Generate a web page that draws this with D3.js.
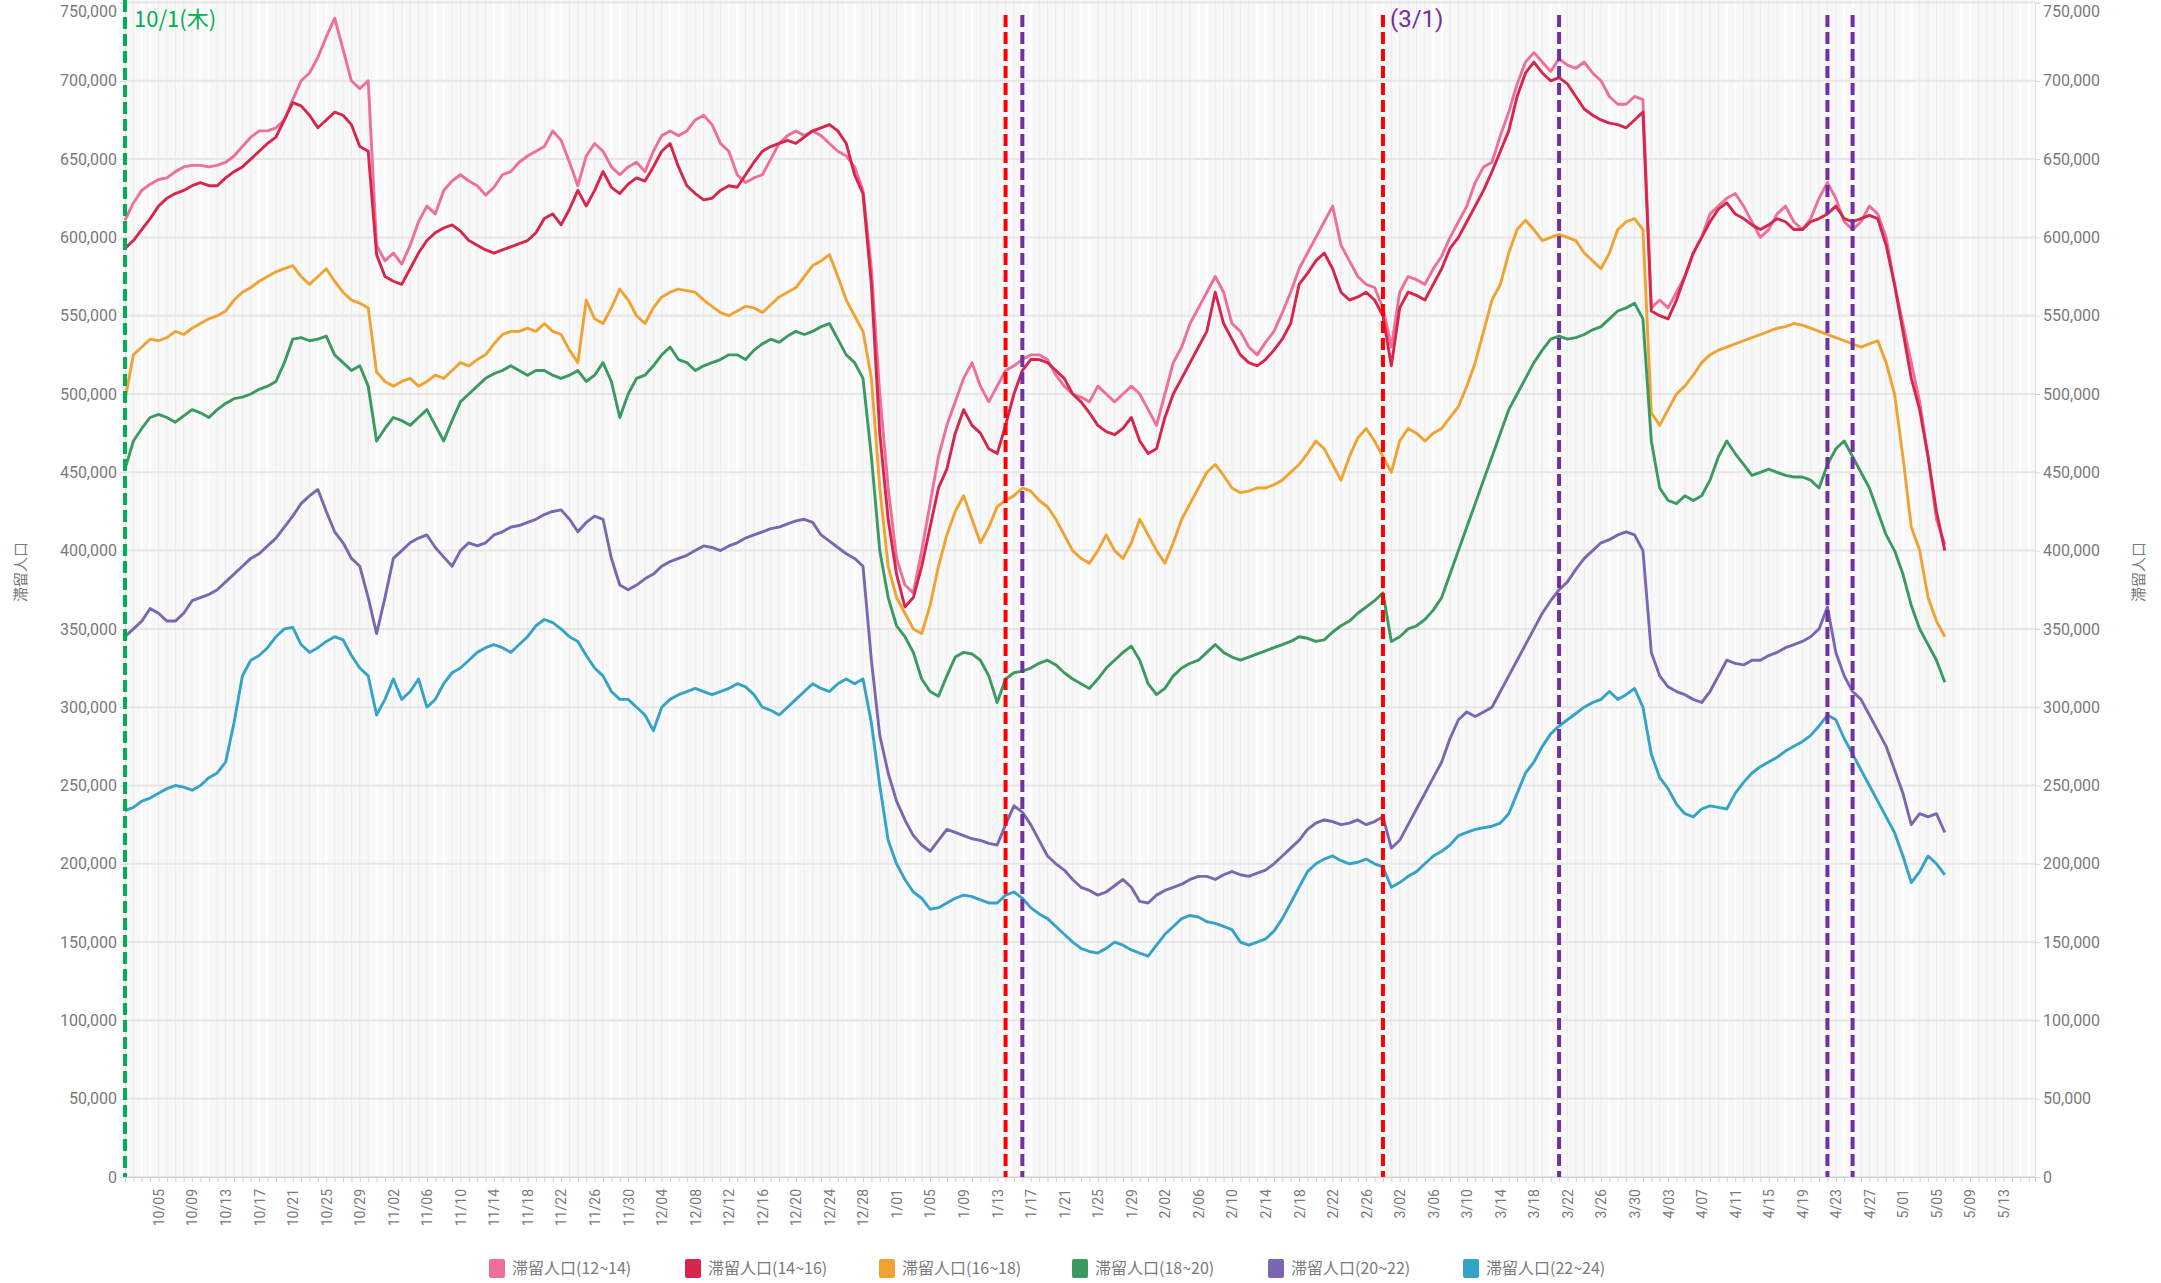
<!DOCTYPE html>
<html><head><meta charset="utf-8">
<script src="https://cdn.jsdelivr.net/npm/d3@7"></script>
<style>body{margin:0;background:#fff;} svg text{font-family:"Noto Sans CJK JP","Noto Sans",sans-serif;}</style>
</head><body><svg id="c" width="2161" height="1283"></svg>
<script>
// ---- data (thousands of people), daily from 2020-10-01 ----
const startDay = "2020-10-01";
const axisEndDay = "2021-05-16T18:00:00Z";
const seriesNames = ["滞留人口(12~14)","滞留人口(14~16)","滞留人口(16~18)","滞留人口(18~20)","滞留人口(20~22)","滞留人口(22~24)"];
const seriesColors = ["#ee6f99","#d7264c","#f0a232","#3a9a5f","#7b67b0","#35a3c8"];
const s12_14 = [611,622,630,634,637,638,642,645,646,646,645,646,648,652,658,664,668,668,670,675,688,700,705,715,728,740,720,700,695,700,595,585,590,583,595,610,620,615,630,636,640,636,633,627,632,640,642,648,652,655,658,668,662,648,633,652,660,655,645,640,645,648,642,655,665,668,665,668,675,678,672,660,655,640,635,638,640,650,660,665,668,665,668,665,660,655,652,645,630,580,500,440,395,378,373,400,430,460,480,495,510,520,505,495,505,515,518,522,525,525,522,512,505,500,498,495,505,500,495,500,505,500,490,480,500,520,530,545,555,565,575,565,545,540,530,525,533,540,552,565,580,590,600,610,620,595,585,575,570,568,555,530,565,575,573,570,580,588,600,610,620,635,645,648,665,680,698,712,718,712,706,714,710,708,712,705,700,690,685,685,690,688,555,560,555,565,575,590,600,615,620,625,628,620,610,600,605,615,620,610,605,612,625,635,625,610,605,610,620,615,600,570,545,520,495,460,420,404];
const s14_16 = [593,598,605,612,620,625,628,630,633,635,633,633,638,642,645,650,655,660,664,675,686,684,678,670,675,680,678,672,658,655,589,575,572,570,580,590,598,603,606,608,604,598,595,592,590,592,594,596,598,603,612,615,608,618,630,620,630,642,632,628,634,638,636,645,655,660,645,633,628,624,625,630,633,632,640,648,655,658,660,662,660,664,668,670,672,668,660,640,628,570,475,420,385,364,370,390,415,440,452,475,490,480,475,465,462,480,500,515,522,522,520,515,510,500,495,488,480,476,474,478,485,470,462,465,485,500,510,520,530,540,565,545,535,525,520,518,522,528,535,545,570,577,585,590,580,565,560,562,565,560,550,518,555,565,563,560,570,580,593,600,610,620,630,642,655,668,690,705,712,705,700,702,698,690,682,678,675,673,672,670,675,680,553,550,548,560,575,590,600,610,618,622,615,612,608,605,608,612,610,605,605,610,612,615,620,612,610,612,614,612,595,570,540,510,490,460,425,400];
const s16_18 = [496,525,530,535,534,536,540,538,542,545,548,550,553,560,565,568,572,575,578,580,582,575,570,575,580,572,565,560,558,555,514,508,505,508,510,505,508,512,510,515,520,518,522,525,532,538,540,540,542,540,545,540,538,528,520,560,548,545,555,567,560,550,545,555,562,565,567,566,565,560,556,552,550,553,556,555,552,557,562,565,568,575,582,585,589,575,560,550,540,510,440,390,370,360,350,347,365,390,410,425,435,420,405,415,428,432,435,440,438,432,428,420,410,400,395,392,400,410,400,395,405,420,410,400,392,405,420,430,440,450,455,448,440,437,438,440,440,442,445,450,455,462,470,465,455,445,460,472,478,470,460,450,470,478,475,470,475,478,485,492,505,520,540,560,570,590,605,611,605,598,600,602,600,598,590,585,580,590,605,610,612,605,488,480,490,500,505,512,520,525,528,530,532,534,536,538,540,542,543,545,544,542,540,538,536,534,532,530,532,534,520,500,460,415,400,370,355,345];
const s18_20 = [452,470,478,485,487,485,482,486,490,488,485,490,494,497,498,500,503,505,508,520,535,536,534,535,537,525,520,515,518,505,470,478,485,483,480,485,490,480,470,483,495,500,505,510,513,515,518,515,512,515,515,512,510,512,515,508,512,520,508,485,500,510,512,518,525,530,522,520,515,518,520,522,525,525,522,528,532,535,533,537,540,538,540,543,545,535,525,520,510,460,400,370,352,345,335,318,310,307,320,332,335,334,330,320,303,318,322,323,325,328,330,327,322,318,315,312,318,325,330,335,339,330,315,308,312,320,325,328,330,335,340,335,332,330,332,334,336,338,340,342,345,344,342,343,348,352,355,360,364,368,373,342,345,350,352,356,362,370,385,400,415,430,445,460,475,490,500,510,520,528,535,537,535,536,538,541,543,548,553,555,558,548,470,440,432,430,435,432,435,445,460,470,462,455,448,450,452,450,448,447,447,445,440,455,465,470,460,450,440,425,410,400,385,365,350,340,330,316];
const s20_22 = [345,350,355,363,360,355,355,360,368,370,372,375,380,385,390,395,398,403,408,415,422,430,435,439,425,412,405,395,390,370,347,370,395,400,405,408,410,402,396,390,400,405,403,405,410,412,415,416,418,420,423,425,426,420,412,418,422,420,395,378,375,378,382,385,390,393,395,397,400,403,402,400,403,405,408,410,412,414,415,417,419,420,418,410,406,402,398,395,390,330,282,258,240,228,218,212,208,215,222,220,218,216,215,213,212,225,237,233,225,215,205,200,196,190,185,183,180,182,186,190,185,176,175,180,183,185,187,190,192,192,190,193,195,193,192,194,196,200,205,210,215,222,226,228,227,225,226,228,225,227,230,210,215,225,235,245,255,265,280,292,297,294,297,300,310,320,330,340,350,360,368,375,380,388,395,400,405,407,410,412,410,400,335,320,313,310,308,305,303,310,320,330,328,327,330,330,333,335,338,340,342,345,350,364,335,320,310,305,295,285,275,260,245,225,232,230,232,220];
const s22_24 = [234,236,240,242,245,248,250,249,247,250,255,258,265,290,320,330,333,338,345,350,351,340,335,338,342,345,343,333,325,320,295,305,318,305,310,318,300,305,315,322,325,330,335,338,340,338,335,340,345,352,356,354,350,345,342,333,325,320,310,305,305,300,295,285,300,305,308,310,312,310,308,310,312,315,313,308,300,298,295,300,305,310,315,312,310,315,318,315,318,290,250,215,200,190,182,178,171,172,175,178,180,179,177,175,175,180,182,178,172,168,165,160,155,150,146,144,143,146,150,148,145,143,141,148,155,160,165,167,166,163,162,160,158,150,148,150,152,157,165,175,185,195,200,203,205,202,200,201,203,200,198,185,188,192,195,200,205,208,212,218,220,222,223,224,226,232,245,258,265,275,283,288,292,296,300,303,305,310,305,308,312,300,270,255,248,238,232,230,235,237,236,235,245,252,258,262,265,268,272,275,278,282,288,295,292,280,270,260,250,240,230,220,205,188,195,205,200,193];
const seriesValues = [s12_14,s14_16,s16_18,s18_20,s20_22,s22_24];
const yTickValues = [0,50000,100000,150000,200000,250000,300000,350000,400000,450000,500000,550000,600000,650000,700000,750000];
const greenLines = ["2020-10-01"];
const redLines = ["2021-01-14","2021-02-28"];
const purpleLines = ["2021-01-16","2021-03-21","2021-04-22","2021-04-25"];
const greenNote = "10/1(木)";
const redNote = "(3/1)";

// ---- drawing ----
const P = d3.utcParse("%Y-%m-%d");
const t0 = P(startDay), t1 = new Date(axisEndDay);
const L = 125, R = 2035, T = 2.5, B = 1177;
const svg = d3.select("#c");
const x = d3.scaleUtc().domain([t0, t1]).range([L, R]);
const y = d3.scaleLinear().domain([0, 750000]).range([B, T]);
const allDays = d3.utcDay.range(t0, t1);

svg.append("rect").attr("x",0).attr("y",0).attr("width",2161).attr("height",1283).attr("fill","#fff");
svg.append("rect").attr("x",L).attr("y",0).attr("width",R-L).attr("height",B).attr("fill","#f8f8f8");

// vertical day gridlines
svg.append("g").selectAll("line").data(allDays).join("line")
  .attr("x1",d=>x(d)).attr("x2",d=>x(d)).attr("y1",0).attr("y2",B)
  .attr("stroke",d=>(d.getUTCDay()===0||d.getUTCDay()===6)?"#ffffff":"#ebebeb")
  .attr("stroke-width",d=>(d.getUTCDay()===0||d.getUTCDay()===6)?2.5:1);

// horizontal gridlines
svg.append("g").selectAll("line").data(yTickValues).join("line")
  .attr("x1",L).attr("x2",R).attr("y1",d=>y(d)).attr("y2",d=>y(d))
  .attr("stroke","#e6e6e6").attr("stroke-width",2);

// y axes
const fmt = d3.format(",");
const yl = svg.append("g").attr("transform",`translate(${L},0)`).call(d3.axisLeft(y).tickValues(yTickValues).tickFormat(fmt).tickSize(5).tickPadding(3));
const yr = svg.append("g").attr("transform",`translate(${R},0)`).call(d3.axisRight(y).tickValues(yTickValues).tickFormat(fmt).tickSize(5).tickPadding(3));
[yl,yr].forEach(g=>{
  g.select(".domain").attr("stroke","#e0e0e0");
  g.selectAll(".tick line").attr("stroke","#d8d8d8");
  g.selectAll("text").attr("fill","#7a7a7a").style("font-family","Roboto,'Noto Sans',sans-serif").style("font-size","16px");
  g.selectAll(".tick").filter(d=>d===750000).select("text").attr("dy","0.85em");
});

// x axis
const xa = svg.append("g").attr("transform",`translate(0,${B})`).call(d3.axisBottom(x).tickValues(allDays).tickFormat("").tickSize(5));
xa.select(".domain").attr("stroke","#d0d0d0");
xa.selectAll(".tick line").attr("stroke","#cfcfcf");
const labelDays = allDays.filter((d,i)=>i>=4 && i%4===0 && i<=224);
const xl = svg.append("g").attr("transform",`translate(0,${B})`).call(d3.axisBottom(x).tickValues(labelDays).tickFormat(d3.utcFormat("%-m/%d")).tickSize(0).tickPadding(0));
xl.select(".domain").remove();
xl.selectAll("text").attr("transform","rotate(-90)").attr("text-anchor","end").attr("x",-12).attr("y",0).attr("dy","0.35em").attr("fill","#7a7a7a").style("font-family","Roboto,'Noto Sans',sans-serif").style("font-size","14px");

// series lines
const line = d3.line().x((d,i)=>x(d3.utcDay.offset(t0,i))).y(d=>y(d*1000));
seriesValues.forEach((vals,k)=>{
  svg.append("path").datum(vals).attr("d",line).attr("fill","none").attr("stroke",seriesColors[k]).attr("stroke-width",2.9).attr("stroke-linejoin","round");
});

// event lines
function vline(dates, color, y1){
  svg.append("g").selectAll("line").data(dates.map(P)).join("line")
    .attr("x1",d=>x(d)).attr("x2",d=>x(d)).attr("y1",y1).attr("y2",B)
    .attr("stroke",color).attr("stroke-width",4).attr("stroke-dasharray","12,5");
}
vline(greenLines,"#00b050",0);
vline(redLines,"#ff0000",15);
vline(purpleLines,"#7030a0",15);
svg.append("text").attr("x",x(P(greenLines[0]))+9).attr("y",27).attr("fill","#00b050").style("font-size","22px").text(greenNote);
svg.append("text").attr("x",x(P(redLines[1]))+7).attr("y",27).attr("fill","#7030a0").style("font-family","Roboto,'Noto Sans',sans-serif").style("font-size","24px").text(redNote);

// axis titles
svg.append("text").attr("transform","translate(26,572) rotate(-90)").attr("text-anchor","middle").attr("fill","#7a7a7a").style("font-size","15px").text("滞留人口");
svg.append("text").attr("transform","translate(2144,572) rotate(-90)").attr("text-anchor","middle").attr("fill","#7a7a7a").style("font-size","15px").text("滞留人口");

// legend
const lx = [489,685,879,1072,1268,1463];
const lg = svg.append("g").selectAll("g").data(seriesNames).join("g").attr("transform",(d,i)=>`translate(${lx[i]},1259)`);
lg.append("rect").attr("width",16).attr("height",19).attr("rx",2).attr("fill",(d,i)=>seriesColors[i]);
lg.append("text").attr("x",23).attr("y",15).attr("fill","#7a7a7a").style("font-size","16px").text(d=>d);
</script></body></html>
